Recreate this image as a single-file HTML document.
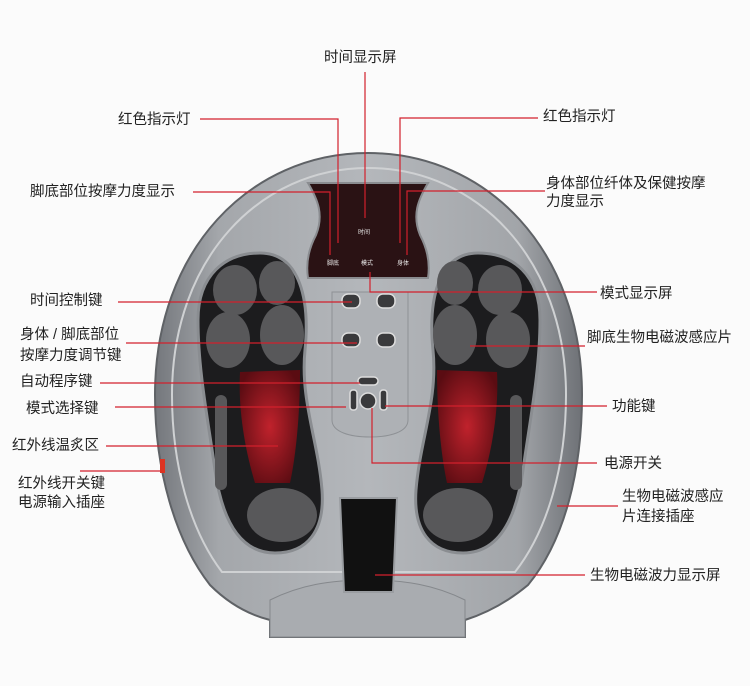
<!DOCTYPE html>
<html><head><meta charset="utf-8"><style>
html,body{margin:0;padding:0;background:#fff;width:750px;height:686px;overflow:hidden}
svg text{font-family:"Liberation Sans","Noto Sans CJK SC",sans-serif;font-size:14.5px;fill:#222}
</style></head><body>
<svg width="750" height="686" viewBox="0 0 750 686" xmlns="http://www.w3.org/2000/svg">
<defs>
<linearGradient id="body" x1="0" y1="0" x2="1" y2="0">
<stop offset="0" stop-color="#74777c"/><stop offset="0.15" stop-color="#a4a7ab"/><stop offset="0.5" stop-color="#b4b7bb"/><stop offset="0.85" stop-color="#a2a5a9"/><stop offset="1" stop-color="#6e7176"/></linearGradient>
<radialGradient id="red" cx="0.5" cy="0.5" r="0.6"><stop offset="0" stop-color="#c0222c"/><stop offset="1" stop-color="#5a0c12"/></radialGradient>
</defs>
<rect width="750" height="686" fill="#fbfbfb"/>
<path d="M368,153 C250,153 155,250 155,395 C155,470 175,540 210,585 C230,605 250,615 270,620 L270,637 L465,637 L465,620 C490,612 510,600 528,585 C565,540 582,470 582,395 C582,250 487,153 368,153 Z" fill="url(#body)" stroke="#5f6266" stroke-width="2"/>
<path d="M368,168 C260,168 172,258 172,395 C172,465 190,530 222,572 L515,572 C548,530 566,465 566,395 C566,258 476,168 368,168 Z" fill="none" stroke="#cfd1d3" stroke-width="2"/>
<path d="M270,600 C300,585 330,580 368,580 C405,580 435,585 465,600 L465,637 L270,637 Z" fill="#a9acb0" stroke="#85888c"/>
<path d="M308,183 L428,183 C418,200 412,215 420,235 C428,250 430,265 428,278 L308,278 C306,265 308,250 316,235 C324,215 318,200 308,183 Z" fill="#2a1214" stroke="#8a8c90" stroke-width="2"/>
<text x="358" y="234" style="font-size:6px;fill:#eee">时间</text>
<text x="327" y="265" style="font-size:6px;fill:#eee">脚底</text>
<text x="361" y="265" style="font-size:6px;fill:#eee">模式</text>
<text x="397" y="265" style="font-size:6px;fill:#eee">身体</text>
<path d="M260,253 C225,253 198,275 198,320 C198,370 208,420 215,470 C222,520 240,553 275,553 C308,553 325,530 322,490 C318,440 300,400 305,350 C310,300 300,253 260,253 Z" fill="#1c1c1e" stroke="#8a8d91" stroke-width="3"/>
<path d="M478,253 C513,253 540,275 540,320 C540,370 530,420 523,470 C516,520 498,553 463,553 C430,553 413,530 416,490 C420,440 438,400 433,350 C428,300 438,253 478,253 Z" fill="#1c1c1e" stroke="#8a8d91" stroke-width="3"/>
<g fill="#58585a">
<ellipse cx="235" cy="290" rx="22" ry="25"/><ellipse cx="277" cy="283" rx="18" ry="22"/>
<ellipse cx="228" cy="340" rx="22" ry="28"/><ellipse cx="282" cy="335" rx="22" ry="30"/>
<ellipse cx="282" cy="515" rx="35" ry="27"/><rect x="215" y="395" width="12" height="95" rx="6"/>
<ellipse cx="455" cy="283" rx="18" ry="22"/><ellipse cx="500" cy="290" rx="22" ry="25"/>
<ellipse cx="455" cy="335" rx="22" ry="30"/><ellipse cx="508" cy="340" rx="22" ry="28"/>
<ellipse cx="458" cy="515" rx="35" ry="27"/><rect x="510" y="395" width="12" height="95" rx="6"/>
</g>
<path d="M240,372 L300,370 C300,420 295,460 290,483 L255,483 C245,450 238,410 240,372 Z" fill="url(#red)"/>
<path d="M437,370 L497,372 C499,410 492,450 482,483 L447,483 C442,460 437,420 437,370 Z" fill="url(#red)"/>
<path d="M332,292 L408,292 L408,420 C408,432 390,437 370,437 C350,437 332,432 332,420 Z" fill="#aeb1b5" stroke="#8e9195"/>
<g fill="#3a3a3c" stroke="#ddd" stroke-width="1.5">
<rect x="342" y="294" width="18" height="14" rx="6"/><rect x="377" y="294" width="18" height="14" rx="6"/>
<rect x="342" y="333" width="18" height="14" rx="6"/><rect x="377" y="333" width="18" height="14" rx="6"/>
<circle cx="368" cy="401" r="8"/><rect x="350" y="390" width="7" height="20" rx="3"/><rect x="380" y="390" width="7" height="20" rx="3"/>
<rect x="358" y="377" width="20" height="8" rx="4"/></g>
<path d="M340,498 L397,498 L393,592 L344,592 Z" fill="#111" stroke="#9a9da1" stroke-width="2"/>
<rect x="160" y="459" width="5" height="14" fill="#d32"/>
<g stroke="#d2202c" stroke-width="1.2" fill="none">
<path d="M365,72 V218"/>
<path d="M200,119 H338 V243"/>
<path d="M538,118 H400 V243"/>
<path d="M193,192 H330 V255"/>
<path d="M545,191 H407 V255"/>
<path d="M370,272 V292 H597"/>
<path d="M118,302 H352"/>
<path d="M126,343 H357"/>
<path d="M470,346 H585"/>
<path d="M100,383 H360"/>
<path d="M115,407 H346"/>
<path d="M385,406 H607"/>
<path d="M106,446 H278"/>
<path d="M372,408 V463 H597"/>
<path d="M80,471 H160"/>
<path d="M557,506 H618"/>
<path d="M375,575 H585"/>
</g>
<text x="324" y="62">时间显示屏</text>
<text x="118" y="124">红色指示灯</text>
<text x="543" y="121">红色指示灯</text>
<text x="30" y="196">脚底部位按摩力度显示</text>
<text x="546" y="188">身体部位纤体及保健按摩</text>
<text x="546" y="206">力度显示</text>
<text x="600" y="298">模式显示屏</text>
<text x="30" y="305">时间控制键</text>
<text x="20" y="339">身体 / 脚底部位</text>
<text x="20" y="360">按摩力度调节键</text>
<text x="587" y="342">脚底生物电磁波感应片</text>
<text x="20" y="386">自动程序键</text>
<text x="26" y="413">模式选择键</text>
<text x="612" y="411">功能键</text>
<text x="12" y="450">红外线温炙区</text>
<text x="604" y="468">电源开关</text>
<text x="18" y="488">红外线开关键</text>
<text x="18" y="507">电源输入插座</text>
<text x="622" y="501">生物电磁波感应</text>
<text x="622" y="521">片连接插座</text>
<text x="590" y="580">生物电磁波力显示屏</text>
</svg>
</body></html>
